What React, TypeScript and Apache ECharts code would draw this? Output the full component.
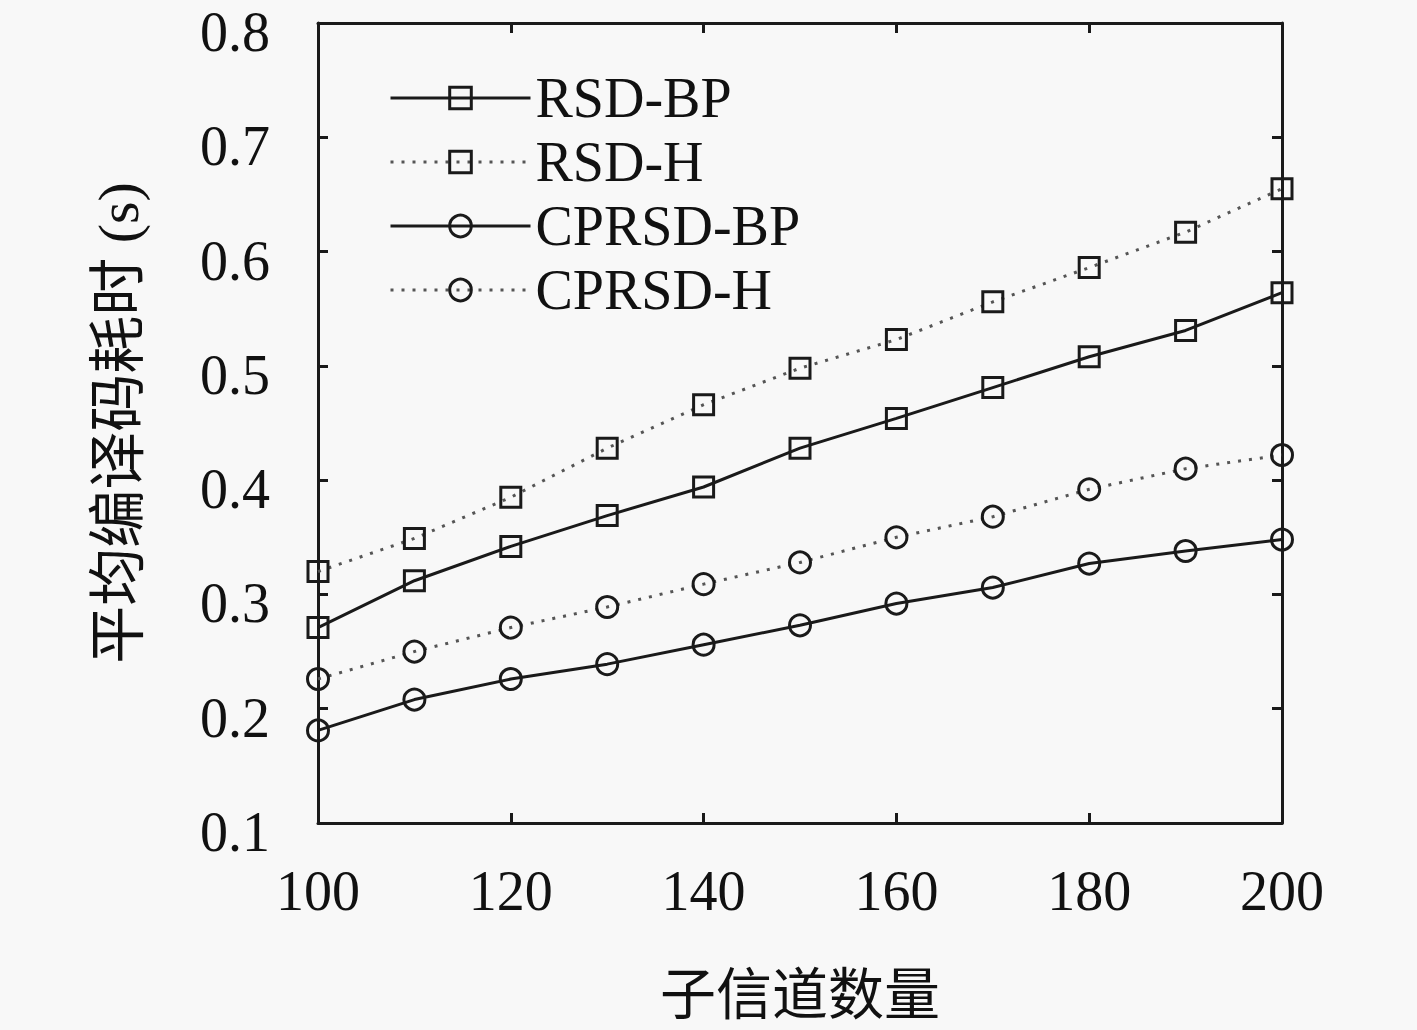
import React, { useEffect, useRef } from "react";
import * as echarts from "echarts";

const subchannels = [100, 110, 120, 130, 140, 150, 160, 170, 180, 190, 200];
const rsdBP = [0.271, 0.312, 0.342, 0.369, 0.394, 0.428, 0.454, 0.481, 0.508, 0.531, 0.564];
const rsdH = [0.320, 0.349, 0.385, 0.428, 0.466, 0.498, 0.523, 0.556, 0.586, 0.617, 0.655];
const cprsdBP = [0.181, 0.208, 0.226, 0.239, 0.256, 0.273, 0.292, 0.306, 0.327, 0.338, 0.348];
const cprsdH = [0.226, 0.250, 0.271, 0.289, 0.309, 0.328, 0.350, 0.368, 0.392, 0.410, 0.422];
const seriesNames = ["RSD-BP", "RSD-H", "CPRSD-BP", "CPRSD-H"];
const xAxisTitle = "子信道数量";
const yAxisTitle = "平均编译码耗时 (s)";

const FONT = "'Liberation Serif', 'Noto Sans CJK SC', serif";
const INK = "#1a1a1a";

export default function App() {
  const ref = useRef<HTMLDivElement>(null);
  useEffect(() => {
    if (!ref.current) return;
    const chart = echarts.init(ref.current, undefined, { renderer: "svg" });
    const pair = (ys: number[]) => subchannels.map((x, i) => [x, ys[i]]);
    const mk = (name: string, ys: number[], solid: boolean, symbol: string) => ({
      name,
      type: "line",
      data: pair(ys),
      symbol,
      symbolSize: symbol === "rect" ? 20 : 21,
      xAxisIndex: 0,
      yAxisIndex: 0,
      lineStyle: solid
        ? { color: INK, width: 3, type: "solid" }
        : { color: "#555", width: 3, type: [3, 8] },
      itemStyle: { color: "rgba(0,0,0,0)", borderColor: INK, borderWidth: 3 },
      emphasis: { disabled: true },
    });
    const axisLine = { show: true, lineStyle: { color: INK, width: 3 } };
    const tick = { show: true, inside: true, length: 10, lineStyle: { color: INK, width: 3 } };
    chart.setOption({
      animation: false,
      backgroundColor: "#f8f8f8",
      grid: {
        left: 318,
        right: 135,
        top: 23,
        bottom: 207,
        containLabel: false,
        outerBoundsMode: "none",
      },
      legend: {
        orient: "vertical",
        left: 384,
        top: 63,
        itemWidth: 140,
        itemHeight: 27,
        itemGap: 4,
        data: seriesNames,
        lineStyle: { width: 3 },
        itemStyle: { borderWidth: 3 },
        textStyle: { fontFamily: FONT, fontSize: 56, color: "#111", lineHeight: 60 },
      },
      xAxis: [
        {
          type: "value",
          min: 100,
          max: 200,
          interval: 20,
          position: "bottom",
          axisLine,
          axisTick: tick,
          splitLine: { show: false },
          axisLabel: { fontFamily: FONT, fontSize: 56, color: "#111", margin: 40 },
          name: xAxisTitle,
          nameLocation: "middle",
          nameGap: 144,
          nameTextStyle: { fontFamily: FONT, fontSize: 56, color: "#111" },
        },
        {
          type: "value",
          min: 100,
          max: 200,
          interval: 20,
          position: "top",
          axisLine,
          axisTick: tick,
          splitLine: { show: false },
          axisLabel: { show: false },
        },
      ],
      yAxis: [
        {
          type: "value",
          min: 0.1,
          max: 0.8,
          interval: 0.1,
          position: "left",
          axisLine,
          axisTick: tick,
          splitLine: { show: false },
          axisLabel: {
            fontFamily: FONT,
            fontSize: 56,
            color: "#111",
            margin: 48,
            verticalAlign: "top",
            lineHeight: 18,
            formatter: (v: number) => v.toFixed(1),
          },
          name: yAxisTitle,
          nameLocation: "middle",
          nameGap: 171,
          nameRotate: 90,
          nameTextStyle: { fontFamily: FONT, fontSize: 58, color: "#111" },
        },
        {
          type: "value",
          min: 0.1,
          max: 0.8,
          interval: 0.1,
          position: "right",
          axisLine,
          axisTick: tick,
          splitLine: { show: false },
          axisLabel: { show: false },
        },
      ],
      series: [
        mk(seriesNames[0], rsdBP, true, "rect"),
        mk(seriesNames[1], rsdH, false, "rect"),
        mk(seriesNames[2], cprsdBP, true, "circle"),
        mk(seriesNames[3], cprsdH, false, "circle"),
      ],
    });
    return () => chart.dispose();
  }, []);
  return (
    <div
      ref={ref}
      style={{ position: "fixed", left: 0, top: 0, width: 1417, height: 1030, background: "#f8f8f8" }}
    />
  );
}
